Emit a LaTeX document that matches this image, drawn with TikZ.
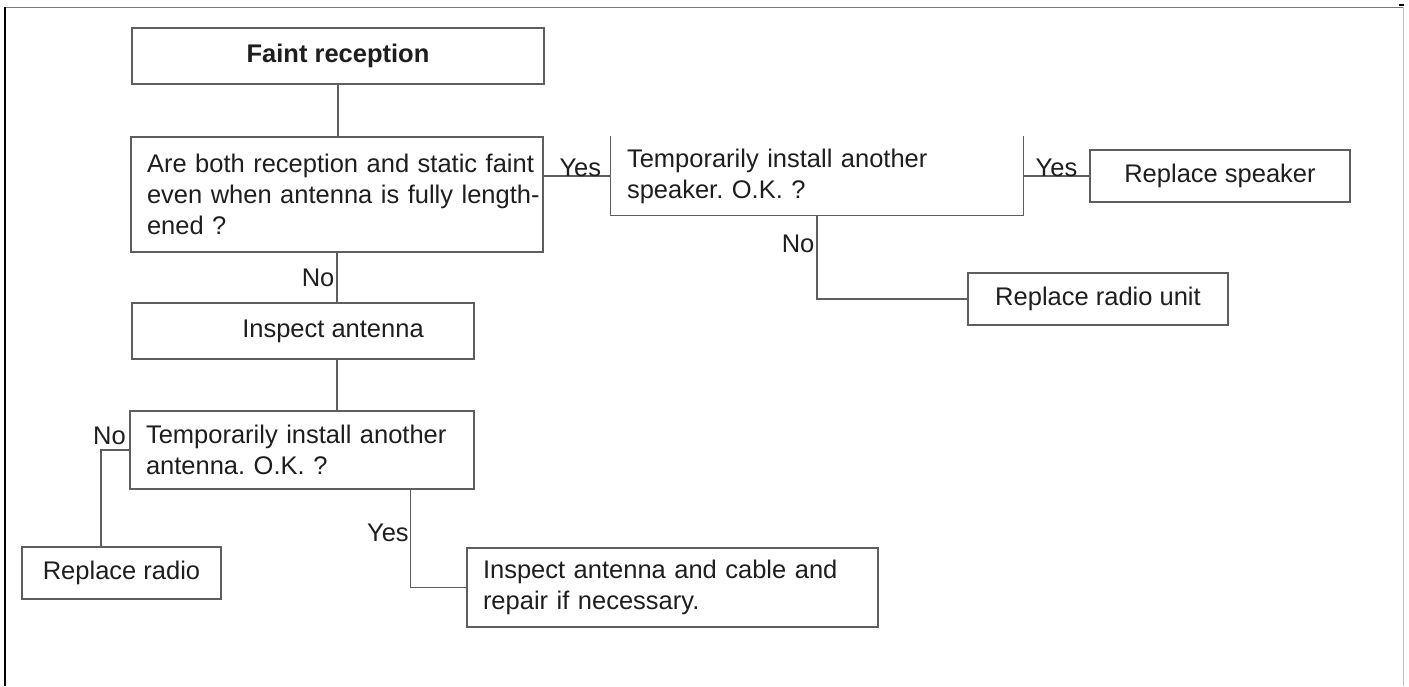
\documentclass[tikz,border=0pt]{standalone}
\usepackage{fontspec}
\setmainfont{Liberation Sans}
\frenchspacing
\definecolor{linecol}{HTML}{5E5E5E}
\definecolor{txtcol}{HTML}{1E1E1E}
\definecolor{framegray}{HTML}{7A7A7A}
\definecolor{framelight}{HTML}{C4C4C4}
\begin{document}
\begin{tikzpicture}[x=1pt,y=-1pt,
  box/.style={draw=linecol, line width=1.3pt, rectangle, inner xsep=16pt, inner ysep=0pt,
    font=\fontsize{25.5}{31}\selectfont\frenchspacing, text=txtcol},
  qbox/.style={box, align=left},
  conn/.style={draw=linecol, line width=1.3pt},
  lbl/.style={font=\fontsize{25.5}{31}\selectfont, text=txtcol, inner sep=2pt}
]
\useasboundingbox (0,0) rectangle (1409,686);
% frame
\draw[framegray, line width=1pt] (5,7) -- (1403,7);
\draw[framelight, line width=1pt] (1403,7) -- (1403,686);
\draw[black, line width=2.2pt] (5,7) -- (5,686);
\draw[black, line width=1.5pt] (1399,5) -- (1404,5);

% boxes
\node[box, minimum width=412pt, minimum height=56pt, font=\fontsize{25.5}{31}\selectfont\bfseries] (faint) at (338,56) {Faint reception};
\node[qbox, text width=380pt, minimum height=115pt] (q1) at (337,194.5)
  {\mbox{Are both reception and static faint}\\\mbox{even when antenna is fully length-}\\ened ?};
\node[qbox, draw=none, text width=380pt, minimum height=78pt] (q2) at (817,176)
  {Temporarily install another\\speaker. O.K. ?};
\draw[conn] (q2.north west) |- (q2.south east) -- (q2.north east);
\node[box, minimum width=260pt, minimum height=52pt] (speaker) at (1220,176) {Replace speaker};
\node[box, minimum width=260pt, minimum height=52pt] (radiounit) at (1098,299) {Replace radio unit};
\node[box, minimum width=342pt, minimum height=56pt] (inspect) at (303,331) {\hspace*{60pt}Inspect antenna};
\node[qbox, text width=312pt, minimum height=78pt] (q3) at (302,450)
  {Temporarily install another\\antenna. O.K. ?};
\node[box, minimum width=199pt, minimum height=52pt] (radio) at (121.5,573) {Replace radio};
\node[qbox, text width=379pt, minimum height=79pt] (cable) at (672.5,587.5)
  {\mbox{Inspect antenna and cable and}\\repair if necessary.};

% connectors
\draw[conn] (faint.south) -- (faint.south |- q1.north);
\draw[conn] (q1.east |- q2.west) -- node[lbl, above, pos=0.55, yshift=-3pt] {Yes} (q2.west);
\draw[conn] (q2.east) -- node[lbl, above, yshift=-3pt] {Yes} (speaker.west);
\draw[conn] (q2.south) |- node[lbl, left, pos=0.17] {No} (radiounit.west);
\draw[conn] (q1.south) -- node[lbl, left, pos=0.5] {No} (q1.south |- inspect.north);
\draw[conn] (q1.south |- inspect.south) -- (q1.south |- q3.north);
\draw[conn] (q3.west) -| node[lbl, pos=0, anchor=south east, inner sep=3pt, yshift=2pt] {No} ([xshift=-20.5pt]radio.north);
\draw[conn] ([xshift=-56pt]q3.south -| cable.west) |- node[lbl, left, pos=0.22, inner sep=1pt] {Yes} (cable.west);
\end{tikzpicture}
\end{document}
